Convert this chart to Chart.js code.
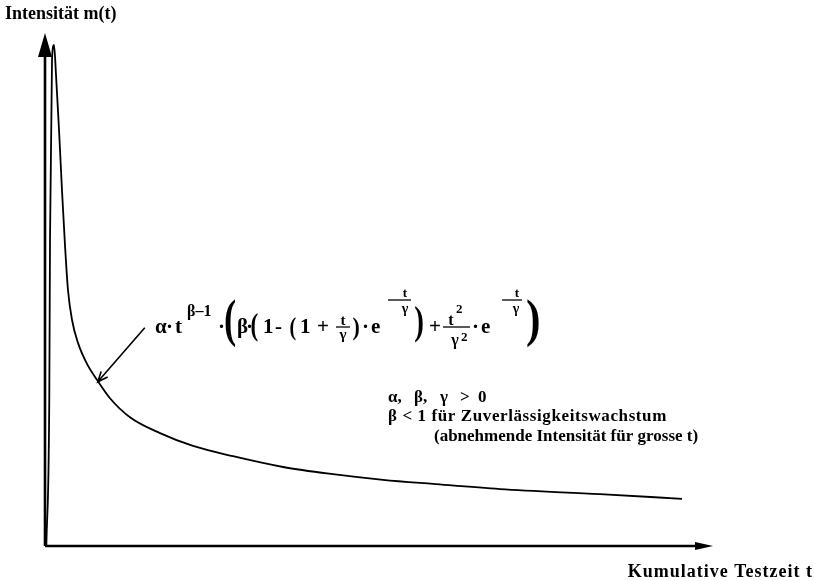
<!DOCTYPE html>
<html>
<head>
<meta charset="utf-8">
<script src="https://cdn.jsdelivr.net/npm/chart.js@4"></script>
<style>
  body { margin: 0; background: #fff; }
  #wrap { width: 814px; height: 581px; }
</style>
</head>
<body>
<div id="wrap"><canvas id="growthChart" width="814" height="581"></canvas></div>
<script>
// cumulative test time t (0..100) and intensity m(t) (0..100)
const testTime = [0.2, 0.64, 0.75, 1.05, 1.35, 1.65, 2.1, 2.54, 2.99, 3.44, 4.04, 4.94, 6.29, 7.78, 9.73, 12.72, 17.22, 22.16, 28.14, 35.63, 43.11, 50.6, 58.08, 68.11, 83.08, 95.36];
const intensity = [0, 28.5, 59.6, 94.7, 97.7, 91.8, 81.1, 69.4, 58.7, 49.9, 44.1, 39.6, 35.5, 32.4, 28.8, 25.1, 22.0, 19.5, 17.5, 15.4, 14.0, 12.9, 12.1, 11.1, 10.1, 9.2];

const yTitle = 'Intensität m(t)';
const xTitle = 'Kumulative Testzeit t';
const conditions = ['α,', 'β,', 'γ', '>', '0'];
const notes = ['β < 1 für Zuverlässigkeitswachstum', '(abnehmende Intensität für grosse t)'];
// point on the curve the formula arrow points at
const arrowTarget = { x: 7.9, y: 32 };

const SERIF = '"Liberation Serif", "Times New Roman", serif';

const points = testTime.map((t, i) => ({ x: t, y: intensity[i] }));

function txt(ctx, s, x, y, size, align) {
  ctx.font = 'bold ' + size + 'px ' + SERIF;
  ctx.textAlign = align || 'left';
  ctx.textBaseline = 'alphabetic';
  ctx.fillText(s, x, y);
}

// stretched bracket glyph fitted into a box
function paren(ctx, ch, x, top, bot, w) {
  ctx.save();
  ctx.font = 'bold 40px ' + SERIF;
  ctx.textAlign = 'left';
  ctx.textBaseline = 'alphabetic';
  const m = ctx.measureText(ch);
  const h = m.actualBoundingBoxAscent + m.actualBoundingBoxDescent;
  const gw = m.actualBoundingBoxRight + m.actualBoundingBoxLeft;
  ctx.translate(x, top);
  ctx.scale(w / gw, (bot - top) / h);
  ctx.fillText(ch, m.actualBoundingBoxLeft, m.actualBoundingBoxAscent);
  ctx.restore();
}

function hline(ctx, x1, x2, y, lw) {
  ctx.beginPath();
  ctx.lineWidth = lw || 1.3;
  ctx.moveTo(x1, y);
  ctx.lineTo(x2, y);
  ctx.stroke();
}

const arrowAxes = {
  id: 'arrowAxes',
  beforeDatasetsDraw(chart) {
    const { ctx, chartArea: a } = chart;
    ctx.save();
    ctx.strokeStyle = '#000';
    ctx.fillStyle = '#000';
    ctx.lineWidth = 2.6;
    ctx.beginPath();
    ctx.moveTo(a.left, a.bottom);
    ctx.lineTo(a.left, a.top + 22);
    ctx.moveTo(a.left, a.bottom);
    ctx.lineTo(a.right - 17, a.bottom);
    ctx.stroke();
    // y arrow head
    ctx.beginPath();
    ctx.moveTo(a.left, a.top);
    ctx.lineTo(a.left - 7, a.top + 24);
    ctx.lineTo(a.left + 7, a.top + 24);
    ctx.closePath();
    ctx.fill();
    // x arrow head
    ctx.beginPath();
    ctx.moveTo(a.right, a.bottom);
    ctx.lineTo(a.right - 18, a.bottom - 4);
    ctx.lineTo(a.right - 18, a.bottom + 4);
    ctx.closePath();
    ctx.fill();
    ctx.restore();
  },
  afterDraw(chart) {
    const { ctx, scales } = chart;
    ctx.save();
    ctx.fillStyle = '#000';
    ctx.strokeStyle = '#000';

    txt(ctx, yTitle, 5, 19, 18);
    ctx.letterSpacing = '1px';
    txt(ctx, xTitle, 813, 577, 18, 'right');
    ctx.letterSpacing = '0px';

    const condX = [388, 414, 440, 460, 478];
    conditions.forEach((s, i) => txt(ctx, s, condX[i], 402, 17));
    ctx.letterSpacing = '0.6px';
    txt(ctx, notes[0], 388, 421, 17);
    ctx.letterSpacing = '0px';
    txt(ctx, notes[1], 434, 441, 17);

    // arrow from the formula to the curve
    const tx = scales.x.getPixelForValue(arrowTarget.x);
    const ty = scales.y.getPixelForValue(arrowTarget.y);
    const sx = tx + 47, sy = ty - 54;
    const ang = Math.atan2(ty - sy, tx - sx);
    ctx.lineWidth = 1.6;
    ctx.beginPath();
    ctx.moveTo(sx, sy);
    ctx.lineTo(tx, ty);
    ctx.moveTo(tx - 11 * Math.cos(ang - 0.4), ty - 11 * Math.sin(ang - 0.4));
    ctx.lineTo(tx, ty);
    ctx.lineTo(tx - 11 * Math.cos(ang + 0.4), ty - 11 * Math.sin(ang + 0.4));
    ctx.stroke();

    // m(t) = α·t^(β-1)·(β·(1-(1+t/γ)·e^(-t/γ)) + t²/γ²·e^(-t/γ))
    const B = 333, S = 21;
    txt(ctx, 'α', 155, B, S);
    txt(ctx, '·', 166, B, S);
    txt(ctx, 't', 175, B, S);
    txt(ctx, 'β–1', 187, 316, 16);
    txt(ctx, '·', 218, B, S);
    paren(ctx, '(', 225, 300, 348, 11);
    txt(ctx, 'β', 237, B, S);
    txt(ctx, '·', 246, B, S);
    paren(ctx, '(', 251, 312, 342, 7);
    txt(ctx, '1', 263, B, S);
    txt(ctx, '-', 275, B, S);
    paren(ctx, '(', 290, 318, 341, 6);
    txt(ctx, '1', 300, B, S);
    txt(ctx, '+', 317, B, S);
    txt(ctx, 't', 343, 325, 15, 'center');
    hline(ctx, 336, 350, 327);
    txt(ctx, 'γ', 343, 339, 15, 'center');
    paren(ctx, ')', 353, 318, 341, 6);
    txt(ctx, '·', 362, B, S);
    txt(ctx, 'e', 371, B, S);
    hline(ctx, 388, 411, 300);
    txt(ctx, 't', 405, 297, 13, 'center');
    txt(ctx, 'γ', 405, 313, 14, 'center');
    paren(ctx, ')', 415, 305, 343, 8);
    txt(ctx, '+', 429, B, S);
    txt(ctx, 't', 451, 325, 16, 'center');
    txt(ctx, '2', 456, 313, 13);
    hline(ctx, 443, 470, 327);
    txt(ctx, 'γ', 455, 345, 16, 'center');
    txt(ctx, '2', 461, 341, 13);
    txt(ctx, '·', 472, B, S);
    txt(ctx, 'e', 481, B, S);
    hline(ctx, 502, 522, 300);
    txt(ctx, 't', 517, 297, 13, 'center');
    txt(ctx, 'γ', 516, 313, 14, 'center');
    paren(ctx, ')', 527, 300, 348, 12);

    ctx.restore();
  }
};

new Chart(document.getElementById('growthChart').getContext('2d'), {
  type: 'line',
  data: {
    datasets: [{
      data: points,
      borderColor: '#000',
      borderWidth: 1.8,
      pointRadius: 0,
      fill: false,
      cubicInterpolationMode: 'monotone'
    }]
  },
  options: {
    responsive: false,
    animation: false,
    layout: { padding: { left: 45, top: 33, right: 101, bottom: 35 } },
    plugins: { legend: { display: false }, tooltip: { enabled: false } },
    scales: {
      x: { type: 'linear', min: 0, max: 100, display: false },
      y: { min: 0, max: 100, display: false }
    }
  },
  plugins: [arrowAxes]
});
</script>
</body>
</html>
